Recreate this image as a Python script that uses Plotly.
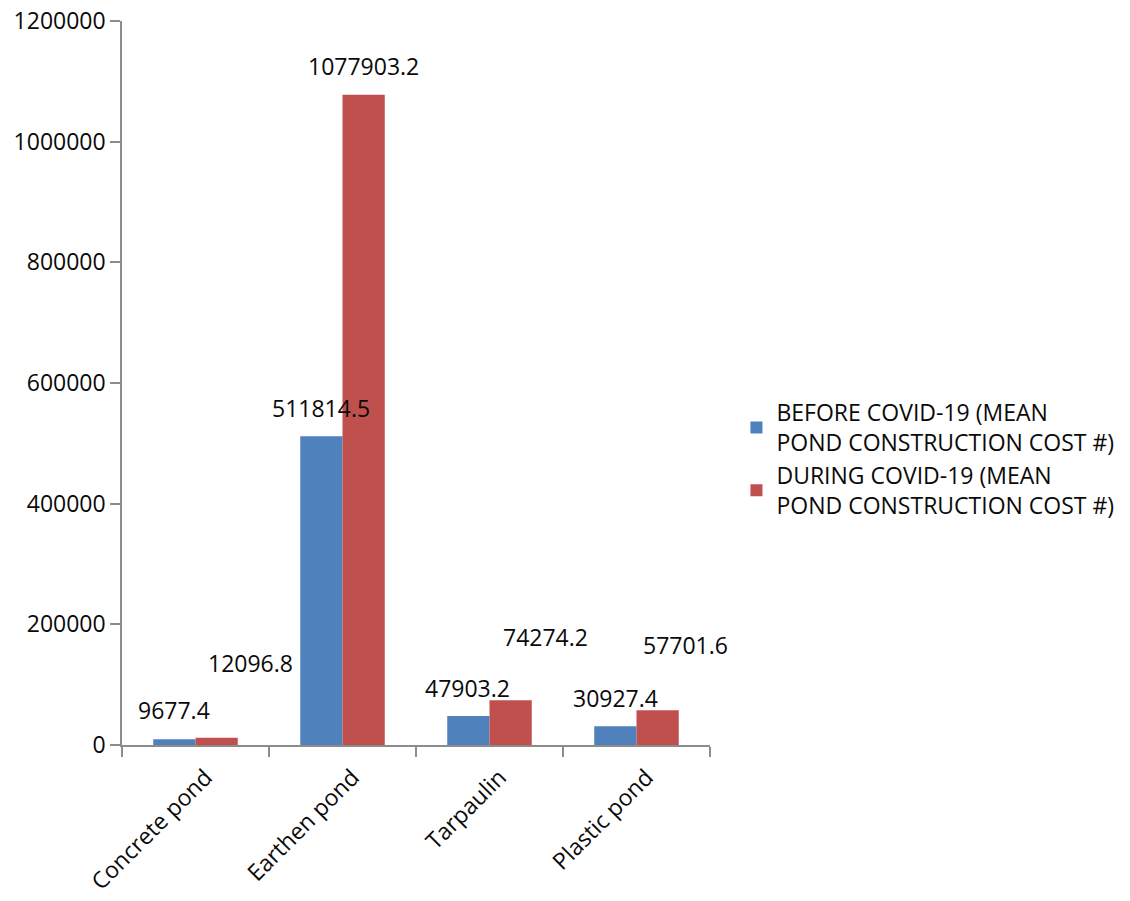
import plotly.graph_objects as go

# Mean pond construction cost by pond type
categories = ["Concrete pond", "Earthen pond", "Tarpaulin", "Plastic pond"]
before_covid = [9677.4, 511814.5, 47903.2, 30927.4]
during_covid = [12096.8, 1077903.2, 74274.2, 57701.6]
series_names = [
    "BEFORE COVID-19 (MEAN<br>POND CONSTRUCTION COST #)",
    "DURING COVID-19 (MEAN<br>POND CONSTRUCTION COST #)",
]
y_ticks = [0, 200000, 400000, 600000, 800000, 1000000, 1200000]

BLUE = "#4F81BD"
RED = "#C0504D"
AXIS_GREY = "#8C8C8C"
TEXT = "#0A0A0A"
FONT = "Open Sans, Lato, sans-serif"
FSIZE = 23

bargap = 0.425
bar_w = (1 - bargap) / 2

# pixel offsets (dx, dy) of each value label from its bar top
label_shift = {
    0: [(0, 29), (0, 28), (-1, 28), (0, 28)],
    1: [(34, 75), (0, 29), (35, 63), (28, 65)],
}

fig = go.Figure()
for name, vals, color in [
    (series_names[0], before_covid, BLUE),
    (series_names[1], during_covid, RED),
]:
    fig.add_trace(go.Bar(
        x=categories, y=vals, name=name,
        marker=dict(color=color, line=dict(width=0)),
    ))

annotations = []
for s, vals in enumerate([before_covid, during_covid]):
    centre = -bar_w / 2 if s == 0 else bar_w / 2
    for i, v in enumerate(vals):
        dx, dy = label_shift[s][i]
        annotations.append(dict(
            x=i + centre, y=v, xref="x", yref="y",
            text=str(v), showarrow=False,
            xanchor="center", yanchor="middle",
            xshift=dx, yshift=dy,
            font=dict(family=FONT, size=FSIZE, color=TEXT),
        ))

fig.update_layout(
    width=1130, height=901,
    margin=dict(l=122, r=420, t=21, b=156, autoexpand=False),
    paper_bgcolor="white", plot_bgcolor="white",
    barmode="group", bargap=bargap, bargroupgap=0,
    font=dict(family=FONT, size=FSIZE, color=TEXT),
    annotations=annotations,
    legend=dict(
        x=1.045, y=0.395, xanchor="left", yanchor="middle",
        font=dict(family=FONT, size=FSIZE, color=TEXT),
        tracegroupgap=8, bgcolor="rgba(0,0,0,0)",
    ),
    showlegend=True,
)
fig.update_xaxes(
    type="category", automargin=False,
    range=[-0.5, len(categories) - 0.5],
    showline=True, linecolor=AXIS_GREY, linewidth=1.5,
    ticks="outside", tickson="boundaries", ticklen=10,
    tickcolor=AXIS_GREY, tickwidth=1.5,
    tickangle=-45, ticklabelshift=10, ticklabelstandoff=8,
    showgrid=False, zeroline=False,
    tickfont=dict(family=FONT, size=FSIZE, color=TEXT),
)
fig.update_yaxes(
    range=[0, 1200000], tickvals=y_ticks, automargin=False,
    ticktext=[str(t) for t in y_ticks],
    showline=True, linecolor=AXIS_GREY, linewidth=1.5,
    ticks="outside", ticklen=10, tickcolor=AXIS_GREY, tickwidth=1.5,
    showgrid=False, zeroline=False,
    tickfont=dict(family=FONT, size=FSIZE, color=TEXT),
)

fig.write_html("out.html")
